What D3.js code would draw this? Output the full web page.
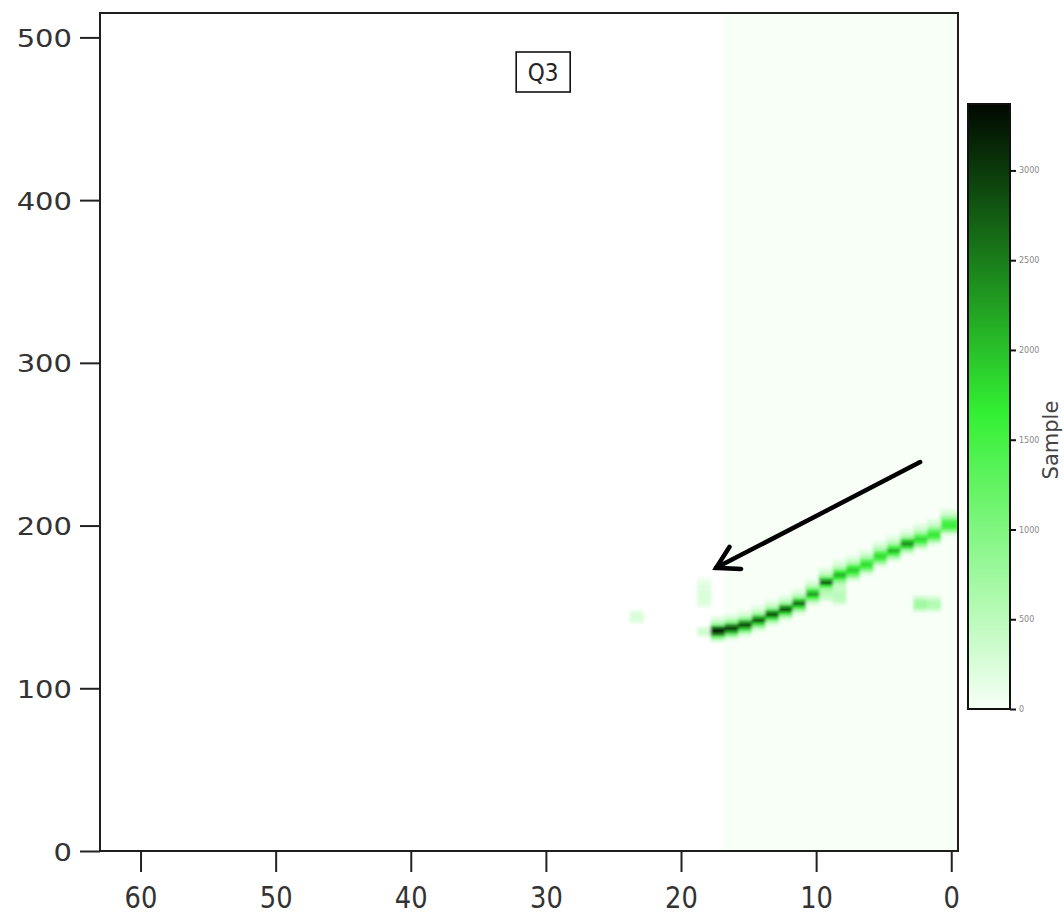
<!DOCTYPE html>
<html>
<head>
<meta charset="utf-8">
<script src="https://cdn.jsdelivr.net/npm/d3@7"></script>
<style>
  body { margin: 0; background: #fff; }
  svg { display: block; }
</style>
</head>
<body>
<div id="chart"></div>
<script>
// Axis ticks
const xTicks = [60, 50, 40, 30, 20, 10, 0];
const yTicks = [0, 100, 200, 300, 400, 500];
const colorTicks = [0, 500, 1000, 1500, 2000, 2500, 3000];

// Columns that hold data (zero counts shown as faint tint)
const tintColumns = [0, 1, 2, 3, 4, 5, 6, 7, 8, 9, 10, 11, 12, 13, 14, 15, 16];

// Main ridge: column, lowest bin start, counts per 2-unit bin (upwards)
const ridgeCols = [0, 1, 2, 3, 4, 5, 6, 7, 8, 9, 10, 11, 12, 13, 14, 15, 16, 17];
const ridgeStart = [194, 188, 185, 182, 178, 174.5, 169.5, 166, 151, 154, 151, 145.3, 141.6, 138.5, 135, 132, 130, 128.5];
const ridgeCounts = [
  [200, 900, 1500, 1600, 1400, 800, 400, 200],
  [200, 800, 1500, 1700, 1300, 700, 350, 200],
  [200, 800, 1500, 1800, 1300, 700, 350, 200],
  [200, 700, 1800, 2400, 1900, 800, 350, 150],
  [200, 800, 1700, 2100, 1500, 700, 350, 150],
  [200, 800, 1500, 1800, 1400, 700, 350, 150],
  [200, 800, 1500, 1800, 1400, 700, 350, 150],
  [250, 900, 1600, 1900, 1500, 700, 350, 150],
  [200, 450, 500, 500, 450, 400, 500, 900, 1700, 2100, 1600, 700, 300, 150],
  [300, 450, 550, 700, 1600, 2800, 2100, 900, 400, 200],
  [200, 700, 1600, 2300, 1800, 800, 350, 150],
  [200, 800, 1800, 2700, 2000, 800, 350, 150],
  [200, 800, 1900, 2900, 2200, 800, 350, 150],
  [200, 800, 1900, 2900, 2200, 800, 350, 150],
  [200, 800, 1900, 2900, 2100, 800, 350, 150],
  [200, 900, 2000, 3000, 2300, 900, 350, 150],
  [250, 1000, 2200, 3100, 2400, 900, 400, 150],
  [300, 1100, 2500, 3370, 2600, 900, 400, 150]
];

// Smaller patches away from the ridge
const patchCols = [2, 1, 18, 18, 23];
const patchStart = [147, 147, 150, 132, 140];
const patchCounts = [
  [300, 700, 750, 650, 300],
  [250, 550, 600, 500, 250],
  [150, 200, 250, 250, 250, 200, 200, 150, 100],
  [250, 350, 200],
  [150, 250, 250, 150]
];

const binH = 2;
const colorMax = 3370;

const W = 1064;
const H = 919;
const plot = { left: 100, right: 958, top: 13, bottom: 851 };

const x = d3.scaleLinear().domain([63, -0.5]).range([plot.left, plot.right]);
const y = d3.scaleLinear().domain([0, 515]).range([plot.bottom, plot.top]);
const color = d3
  .scaleLinear()
  .domain([0, 1650, colorMax])
  .range(['#f7fff7', '#33f033', '#000800'])
  .clamp(true);
const cb = d3.scaleLinear().domain([0, colorMax]).range([709, 104]);

const svg = d3
  .select('#chart')
  .append('svg')
  .attr('width', W)
  .attr('height', H);

const defs = svg.append('defs');
defs
  .append('clipPath')
  .attr('id', 'plotClip')
  .append('rect')
  .attr('x', plot.left)
  .attr('y', plot.top)
  .attr('width', plot.right - plot.left)
  .attr('height', plot.bottom - plot.top);
defs
  .append('filter')
  .attr('id', 'soft')
  .attr('filterUnits', 'userSpaceOnUse')
  .attr('x', 0)
  .attr('y', 0)
  .attr('width', W)
  .attr('height', H)
  .append('feGaussianBlur')
  .attr('stdDeviation', '1.6 1.1');

// bin edges in x (cells sit slightly right of the integer)
const binLeft = d => d + 0.8;
const binRight = d => (d === 0 ? -0.5 : d - 0.2);

const heat = svg.append('g').attr('clip-path', 'url(#plotClip)');

// Faint tint where counts are zero
heat
  .append('g')
  .selectAll('rect')
  .data(tintColumns)
  .join('rect')
  .attr('x', d => x(binLeft(d)))
  .attr('width', d => x(binRight(d)) - x(binLeft(d)) + 0.5)
  .attr('y', y(y.domain()[1]))
  .attr('height', y(0) - y(y.domain()[1]))
  .attr('fill', color(0))
  .attr('shape-rendering', 'crispEdges');

function toCells(cols, starts, counts) {
  const out = [];
  cols.forEach((c, i) => {
    counts[i].forEach((v, j) => {
      out.push({ col: c, y0: starts[i] + j * binH, v: v });
    });
  });
  return out;
}

const cells = toCells(patchCols, patchStart, patchCounts).concat(
  toCells(ridgeCols, ridgeStart, ridgeCounts)
);

heat
  .append('g')
  .attr('filter', 'url(#soft)')
  .selectAll('rect')
  .data(cells)
  .join('rect')
  .attr('x', d => x(binLeft(d.col)))
  .attr('width', d => x(binRight(d.col)) - x(binLeft(d.col)) + 0.5)
  .attr('y', d => y(d.y0 + binH))
  .attr('height', d => y(d.y0) - y(d.y0 + binH) + 0.5)
  .attr('fill', d => color(d.v));

// Axes
const yAxis = svg
  .append('g')
  .attr('transform', 'translate(' + plot.left + ',0)')
  .call(d3.axisLeft(y).tickValues(yTicks).tickSize(20).tickPadding(8));
yAxis.select('.domain').remove();
yAxis.selectAll('line').attr('stroke', '#222').attr('stroke-width', 2);
yAxis
  .selectAll('text')
  .attr('x', 0)
  .attr('dy', '0.36em')
  .attr('transform', 'translate(-28,0) scale(1.16,1)')
  .attr('font-family', 'DejaVu Sans, sans-serif')
  .attr('font-size', 25)
  .attr('fill', '#333');

const xAxis = svg
  .append('g')
  .attr('transform', 'translate(0,' + plot.bottom + ')')
  .call(d3.axisBottom(x).tickValues(xTicks).tickSize(21).tickPadding(15));
xAxis.select('.domain').remove();
xAxis.selectAll('line').attr('stroke', '#222').attr('stroke-width', 2);
xAxis
  .selectAll('text')
  .attr('x', 0)
  .attr('transform', 'scale(0.86,1)')
  .attr('font-family', 'DejaVu Sans, sans-serif')
  .attr('font-size', 30)
  .attr('fill', '#333');

// Frame
svg
  .append('rect')
  .attr('x', plot.left)
  .attr('y', plot.top)
  .attr('width', plot.right - plot.left)
  .attr('height', plot.bottom - plot.top)
  .attr('fill', 'none')
  .attr('stroke', '#1e1e1e')
  .attr('stroke-width', 2);

// Q3 label
const q3 = svg.append('g').attr('transform', 'translate(' + x(30.2) + ',72)');
q3.append('rect')
  .attr('x', -27)
  .attr('y', -20)
  .attr('width', 54)
  .attr('height', 40)
  .attr('fill', '#fff')
  .attr('stroke', '#111')
  .attr('stroke-width', 1.6);
q3.append('text')
  .attr('text-anchor', 'middle')
  .attr('dy', '0.36em')
  .attr('transform', 'scale(0.9,1)')
  .attr('font-family', 'DejaVu Sans, sans-serif')
  .attr('font-size', 24)
  .attr('fill', '#222')
  .text('Q3');

// Arrow pointing at the faint column
const tail = [x(2.3), y(239)];
const tip = [x(17.4), y(174)];
const ang = Math.atan2(tail[1] - tip[1], tail[0] - tip[0]);
const headLen = 25;
const arm = a => [tip[0] + headLen * Math.cos(a), tip[1] + headLen * Math.sin(a)];
const arrow = svg
  .append('g')
  .attr('fill', 'none')
  .attr('stroke', '#000')
  .attr('stroke-width', 4.5)
  .attr('stroke-linecap', 'round');
arrow.append('path').attr('d', d3.line()([tail, tip]));
arrow
  .append('path')
  .attr('stroke-linejoin', 'miter')
  .attr('d', d3.line()([arm(ang - Math.PI / 6), tip, arm(ang + Math.PI / 6)]));

// Colour bar
const grad = defs
  .append('linearGradient')
  .attr('id', 'cbGrad')
  .attr('x1', 0)
  .attr('y1', 1)
  .attr('x2', 0)
  .attr('y2', 0);
[0, 400, 800, 1200, 1650, 2000, 2500, 3000, colorMax].forEach(v => {
  grad
    .append('stop')
    .attr('offset', v / colorMax)
    .attr('stop-color', color(v));
});

svg
  .append('rect')
  .attr('x', 968)
  .attr('y', cb(colorMax))
  .attr('width', 42)
  .attr('height', cb(0) - cb(colorMax))
  .attr('fill', 'url(#cbGrad)')
  .attr('stroke', '#111')
  .attr('stroke-width', 2);

const cbAxis = svg
  .append('g')
  .attr('transform', 'translate(1010,0)')
  .call(
    d3
      .axisRight(cb)
      .tickValues(colorTicks)
      .tickSize(6)
      .tickPadding(3)
      .tickFormat(d3.format('d'))
  );
cbAxis.select('.domain').remove();
cbAxis.selectAll('line').attr('stroke', '#111').attr('stroke-width', 2);
cbAxis
  .selectAll('text')
  .attr('font-family', 'DejaVu Sans, sans-serif')
  .attr('font-size', 8)
  .attr('fill', '#888');

svg
  .append('text')
  .attr('transform', 'translate(1058,440) rotate(-90)')
  .attr('text-anchor', 'middle')
  .attr('font-family', 'DejaVu Sans, sans-serif')
  .attr('font-size', 21)
  .attr('fill', '#444')
  .text('Sample');
</script>
</body>
</html>
